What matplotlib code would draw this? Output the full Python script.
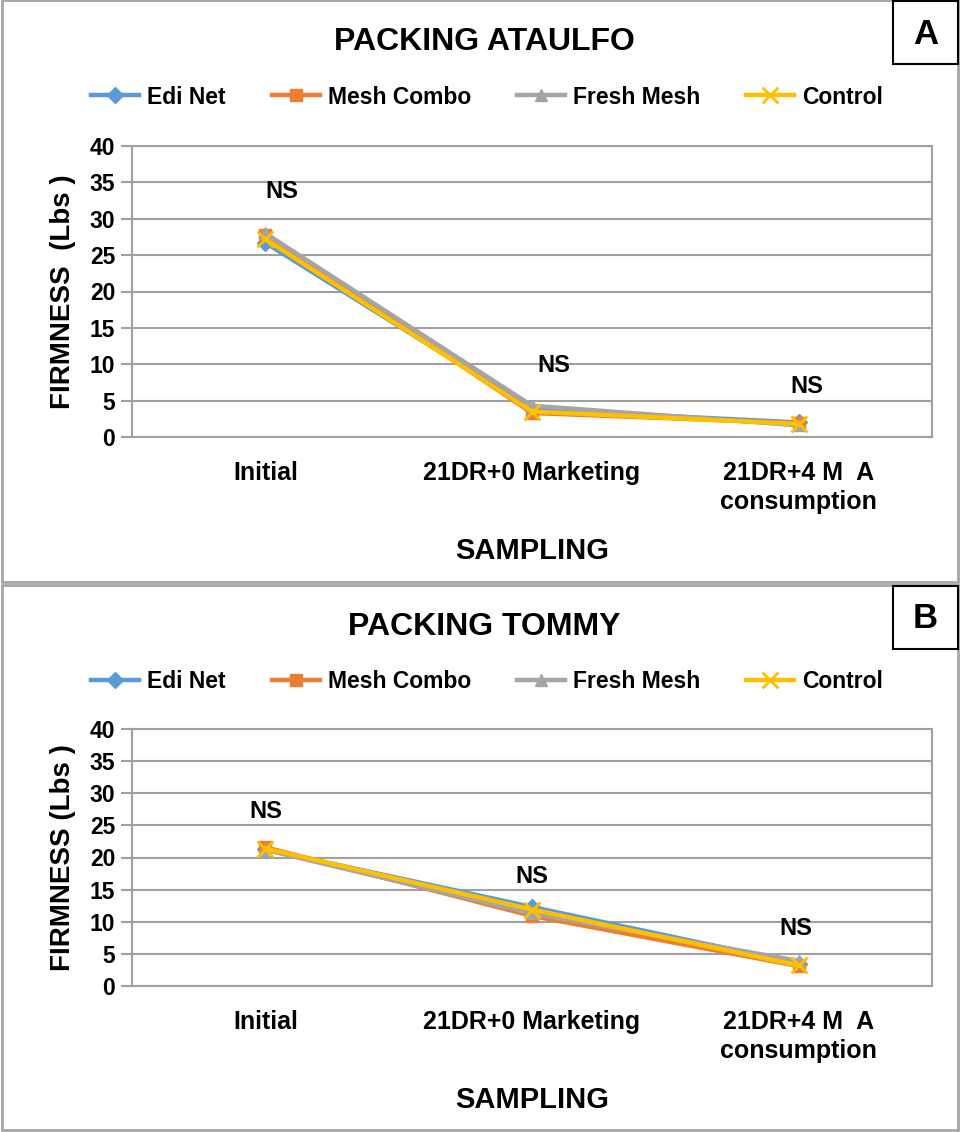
import matplotlib.pyplot as plt
from matplotlib.patches import Rectangle

plt.rcParams['font.family'] = ['Liberation Sans', 'DejaVu Sans']
plt.rcParams['font.weight'] = 'bold'

# data
samplings = ['Initial', '21DR+0 Marketing', '21DR+4 M  A\nconsumption']
series_names = ['Edi Net', 'Mesh Combo', 'Fresh Mesh', 'Control']
colors = ['#5B9BD5', '#ED7D31', '#A5A5A5', '#FFC000']
markers = ['D', 's', '^', 'x']

ataulfo_edi = [26.7, 3.8, 2.0]
ataulfo_mesh = [27.8, 3.3, 1.9]
ataulfo_fresh = [28.0, 4.3, 1.6]
ataulfo_control = [27.2, 3.5, 1.8]

tommy_edi = [21.3, 12.3, 3.5]
tommy_mesh = [21.6, 10.9, 3.1]
tommy_fresh = [21.2, 11.3, 3.9]
tommy_control = [21.4, 11.9, 3.2]

# "NS" labels (x offset in category units, y in Lbs)
ns_ataulfo_x = [0.06, 1.08, 2.03]
ns_ataulfo_y = [33.7, 9.8, 7.0]
ns_tommy_x = [0.0, 1.0, 1.99]
ns_tommy_y = [27.1, 17.0, 9.0]

W, H = 961, 1132
fig = plt.figure(figsize=(W / 100, H / 100), dpi=100)
grid_col = '#A0A0A0'


def px_rect(x0, y0, x1, y1, **kw):
    # rectangle given in pixel coords (top-left origin)
    r = Rectangle((x0 / W, 1 - y1 / H), (x1 - x0) / W, (y1 - y0) / H,
                  transform=fig.transFigure, fill=False, **kw)
    fig.add_artist(r)


def panel(ax_rect, series, ns_x, ns_y, title, letter, ylab, top, bottom):
    px_rect(2, top, 958, bottom, edgecolor='#A6A6A6', lw=2)
    px_rect(893, top + 1, 958, top + 64, edgecolor='black', lw=1.5)
    fig.text(925.5 / W, 1 - (top + 34) / H, letter, ha='center', va='center',
             fontsize=25, fontweight='bold')
    fig.text(484 / W, 1 - (top + 42) / H, title, ha='center', va='center',
             fontsize=23, fontweight='bold')

    ax = fig.add_axes(ax_rect)
    xs = range(len(samplings))
    handles = []
    for vals, name, c, m in zip(series, series_names, colors, markers):
        if m == 'x':
            h, = ax.plot(xs, vals, color=c, lw=3.2, marker=m, ms=11, mew=2, label=name)
        else:
            h, = ax.plot(xs, vals, color=c, lw=3.2, marker=m, ms=8, label=name)
        handles.append(h)
    for x, y in zip(ns_x, ns_y):
        ax.text(x, y, 'NS', ha='center', va='center', fontsize=17, fontweight='bold')

    ax.set_xlim(-0.5, 2.5)
    ax.set_ylim(0, 40)
    ax.set_yticks(range(0, 41, 5))
    ax.set_xticks(list(xs))
    ax.set_xticklabels(samplings, fontsize=18, fontweight='bold', linespacing=1.3)
    ax.tick_params(axis='x', length=0, pad=17)
    ax.tick_params(axis='y', length=8, width=1.5, color=grid_col, labelsize=16.5, pad=4)
    for t in ax.get_yticklabels():
        t.set_fontweight('bold')
    ax.grid(axis='y', color=grid_col, lw=1.5)
    ax.set_axisbelow(True)
    for s in ax.spines.values():
        s.set_color(grid_col)
        s.set_linewidth(1.5)
    ax.set_ylabel(ylab, fontsize=20, fontweight='bold', labelpad=10)
    ax.set_xlabel('SAMPLING', fontsize=21, fontweight='bold', labelpad=16)

    fig.legend(handles, series_names, loc='center', ncol=4, frameon=False,
               bbox_to_anchor=(487 / W, 1 - (top + 97) / H),
               handlelength=2.1, columnspacing=2.0, handletextpad=0.35,
               prop={'weight': 'bold', 'size': 16.5})
    return ax


panel([132 / W, 1 - 437 / H, 800 / W, 291 / H],
      [ataulfo_edi, ataulfo_mesh, ataulfo_fresh, ataulfo_control],
      ns_ataulfo_x, ns_ataulfo_y, 'PACKING ATAULFO', 'A', 'FIRMNESS  (Lbs )', 0, 582)

panel([132 / W, 1 - 986 / H, 800 / W, 257 / H],
      [tommy_edi, tommy_mesh, tommy_fresh, tommy_control],
      ns_tommy_x, ns_tommy_y, 'PACKING TOMMY', 'B', 'FIRMNESS (Lbs )', 585, 1130)

fig.savefig('out.png', dpi=100)
